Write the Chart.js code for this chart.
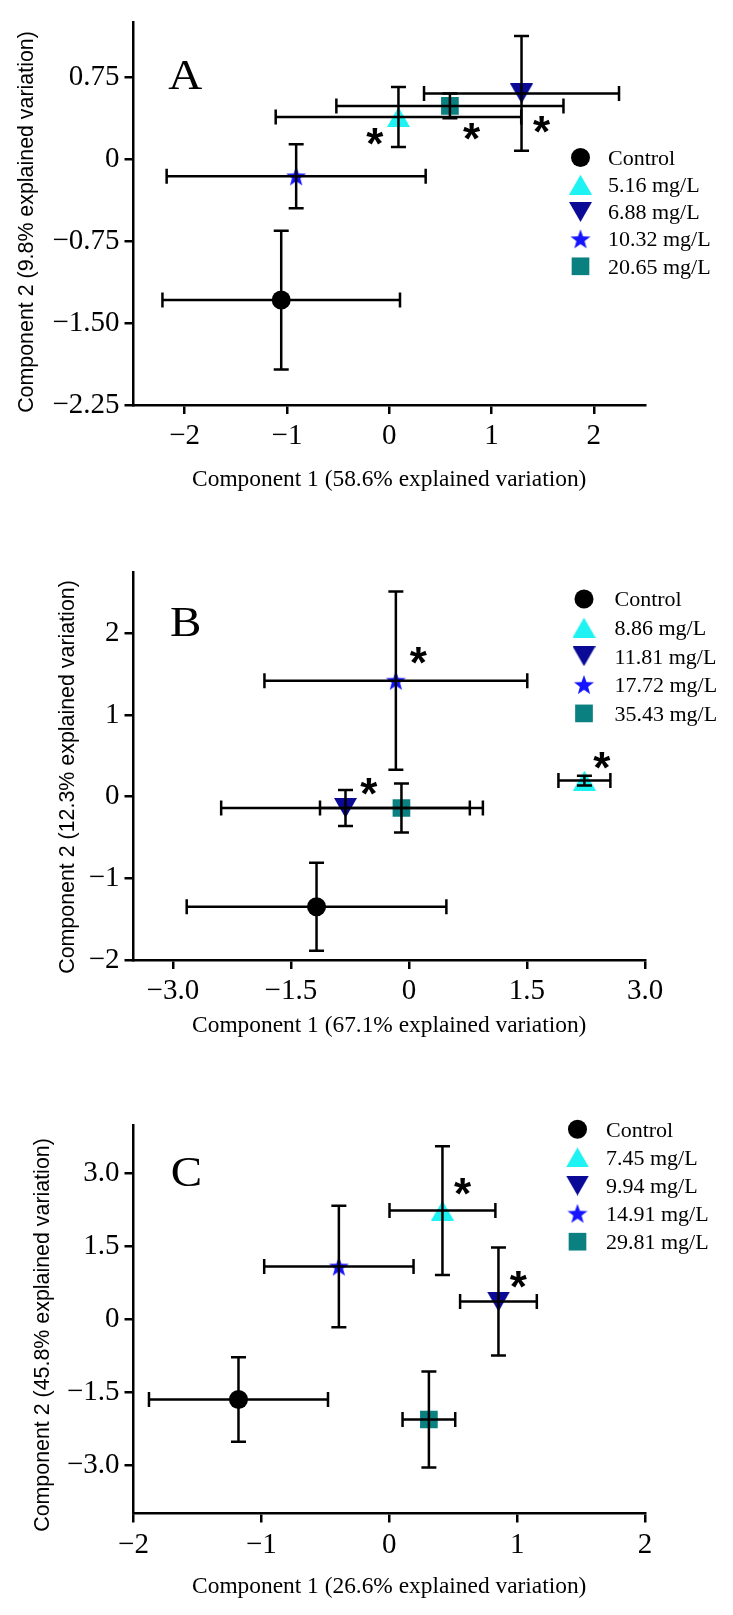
<!DOCTYPE html>
<html>
<head>
<meta charset="utf-8">
<script src="https://cdn.jsdelivr.net/npm/chart.js@4/dist/chart.umd.min.js"></script>
<style>
html,body{margin:0;padding:0;background:#fff;}
body{width:733px;height:1615px;position:relative;overflow:hidden;}
canvas{position:absolute;left:0;}
</style>
</head>
<body>
<canvas id="cA" width="733" height="510" style="top:0px"></canvas>
<canvas id="cB" width="733" height="530" style="top:540px"></canvas>
<canvas id="cC" width="733" height="525" style="top:1090px"></canvas>
<script>
// ---------- shared series styling ----------
const seriesColors = ['#000000', '#1EF2F2', '#0A0A96', '#1414FF', '#0B8080'];

// ---------- Panel A ----------
const aNames = ['Control', '5.16 mg/L', '6.88 mg/L', '10.32 mg/L', '20.65 mg/L'];
const aX    = [-1.056, 0.09, 1.293, -0.91, 0.593];
const aY    = [-1.29, 0.385, 0.60, -0.157, 0.486];
const aErrX = [1.161, 1.20, 0.953, 1.266, 1.11];
const aErrY = [0.635, 0.275, 0.525, 0.293, 0.113];
const aStarX = [-0.14, 0.805, 1.488];
const aStarY = [0.207, 0.256, 0.32];
const aXTicks = [-2, -1, 0, 1, 2];
const aXTickLabels = ['\u22122', '\u22121', '0', '1', '2'];
const aYTicks = [-2.25, -1.5, -0.75, 0, 0.75];
const aYTickLabels = ['\u22122.25', '\u22121.50', '\u22120.75', '0', '0.75'];
const aXTitle = 'Component 1 (58.6% explained variation)';
const aYTitle = 'Component 2 (9.8% explained variation)';

// ---------- Panel B ----------
const bNames = ['Control', '8.86 mg/L', '11.81 mg/L', '17.72 mg/L', '35.43 mg/L'];
const bX    = [-1.174, 2.23, -0.806, -0.166, -0.095];
const bY    = [-1.348, 0.196, -0.139, 1.42, -0.139];
const bErrX = [1.65, 0.33, 1.58, 1.67, 1.035];
const bErrY = [0.54, 0.06, 0.22, 1.09, 0.30];
const bStarX = [0.12, 2.45, -0.51];
const bStarY = [1.73, 0.44, 0.13];
const bXTicks = [-3, -1.5, 0, 1.5, 3];
const bXTickLabels = ['\u22123.0', '\u22121.5', '0', '1.5', '3.0'];
const bYTicks = [-2, -1, 0, 1, 2];
const bYTickLabels = ['\u22122', '\u22121', '0', '1', '2'];
const bXTitle = 'Component 1 (67.1% explained variation)';
const bYTitle = 'Component 2 (12.3% explained variation)';

// ---------- Panel C ----------
const cNames = ['Control', '7.45 mg/L', '9.94 mg/L', '14.91 mg/L', '29.81 mg/L'];
const cX    = [-1.179, 0.416, 0.854, -0.394, 0.31];
const cY    = [-1.651, 2.237, 0.365, 1.087, -2.064];
const cErrX = [0.70, 0.414, 0.30, 0.584, 0.206];
const cErrY = [0.87, 1.325, 1.11, 1.25, 0.99];
const cStarX = [0.573, 1.01];
const cStarY = [2.74, 0.81];
const cXTicks = [-2, -1, 0, 1, 2];
const cXTickLabels = ['\u22122', '\u22121', '0', '1', '2'];
const cYTicks = [-3, -1.5, 0, 1.5, 3];
const cYTickLabels = ['\u22123.0', '\u22121.5', '0', '1.5', '3.0'];
const cXTitle = 'Component 1 (26.6% explained variation)';
const cYTitle = 'Component 2 (45.8% explained variation)';

// ---------- marker images ----------
function triImg(color, down) {
  const w = 23, h = 20;
  const c = document.createElement('canvas'); c.width = w; c.height = h;
  const g = c.getContext('2d'); g.fillStyle = color; g.beginPath();
  if (down) { g.moveTo(0, 0); g.lineTo(w, 0); g.lineTo(w / 2, h); }
  else { g.moveTo(0, h); g.lineTo(w, h); g.lineTo(w / 2, 0); }
  g.closePath(); g.fill(); return c;
}
function starImg(color) {
  const R = 10.5, r = 4.3, w = 22, h = 20;
  const c = document.createElement('canvas'); c.width = w; c.height = h;
  const g = c.getContext('2d'); g.fillStyle = color; g.beginPath();
  const cx = w / 2, cy = R + 0.2;
  for (let i = 0; i < 10; i++) {
    const rr = i % 2 === 0 ? R : r;
    const a = -Math.PI / 2 + i * Math.PI / 5;
    const px = cx + rr * Math.cos(a), py = cy + rr * Math.sin(a);
    if (i === 0) g.moveTo(px, py); else g.lineTo(px, py);
  }
  g.closePath(); g.fill(); return c;
}
const markerStyles = [
  { pointStyle: 'circle', radius: 9.5 },
  { pointStyle: triImg(seriesColors[1], false), radius: 12 },
  { pointStyle: triImg(seriesColors[2], true), radius: 12 },
  { pointStyle: starImg(seriesColors[3]), radius: 11 },
  { pointStyle: 'rect', radius: 12.5 }
];

function drawMarker(ctx, i, x, y) {
  const m = markerStyles[i];
  ctx.save();
  ctx.fillStyle = seriesColors[i];
  if (typeof m.pointStyle === 'object') {
    ctx.drawImage(m.pointStyle, x - m.pointStyle.width / 2, y - m.pointStyle.height / 2);
  } else if (m.pointStyle === 'circle') {
    ctx.beginPath(); ctx.arc(x, y, m.radius, 0, Math.PI * 2); ctx.fill();
  } else {
    const s = Math.SQRT1_2 * m.radius;
    ctx.fillRect(x - s, y - s, 2 * s, 2 * s);
  }
  ctx.restore();
}

function textCenter(ctx, text, x, y, font, align, sx) {
  ctx.save();
  ctx.font = font; ctx.textAlign = align || 'center'; ctx.textBaseline = 'alphabetic';
  const m = ctx.measureText(text);
  ctx.translate(x, y + (m.actualBoundingBoxAscent - m.actualBoundingBoxDescent) / 2);
  if (sx) ctx.scale(sx, 1);
  ctx.fillText(text, 0, 0);
  ctx.restore();
}

function makePanel(id, cfg) {
  const H = document.getElementById(id).height;
  const datasets = cfg.names.map((n, i) => ({
    label: n,
    data: [{ x: cfg.x[i], y: cfg.y[i] }],
    pointStyle: markerStyles[i].pointStyle,
    pointRadius: markerStyles[i].radius,
    pointHoverRadius: markerStyles[i].radius,
    backgroundColor: seriesColors[i],
    borderColor: seriesColors[i],
    borderWidth: 0
  }));
  const tickFont = { family: 'Liberation Serif', size: 29 };
  const overlay = {
    id: 'overlay_' + id,
    afterDatasetsDraw(chart) {
      const ctx = chart.ctx, xs = chart.scales.x, ys = chart.scales.y;
      ctx.save();
      // error bars
      ctx.strokeStyle = '#000'; ctx.lineWidth = 2.5; ctx.lineCap = 'butt';
      const cap = 7.5;
      for (let i = 0; i < cfg.x.length; i++) {
        const px = xs.getPixelForValue(cfg.x[i]), py = ys.getPixelForValue(cfg.y[i]);
        const x1 = xs.getPixelForValue(cfg.x[i] - cfg.ex[i]), x2 = xs.getPixelForValue(cfg.x[i] + cfg.ex[i]);
        const y1 = ys.getPixelForValue(cfg.y[i] + cfg.ey[i]), y2 = ys.getPixelForValue(cfg.y[i] - cfg.ey[i]);
        ctx.beginPath();
        ctx.moveTo(x1, py); ctx.lineTo(x2, py);
        ctx.moveTo(x1, py - cap); ctx.lineTo(x1, py + cap);
        ctx.moveTo(x2, py - cap); ctx.lineTo(x2, py + cap);
        ctx.moveTo(px, y1); ctx.lineTo(px, y2);
        ctx.moveTo(px - cap, y1); ctx.lineTo(px + cap, y1);
        ctx.moveTo(px - cap, y2); ctx.lineTo(px + cap, y2);
        ctx.stroke();
      }
      ctx.fillStyle = '#000';
      // significance asterisks
      for (let k = 0; k < cfg.sx.length; k++) {
        textCenter(ctx, '*', xs.getPixelForValue(cfg.sx[k]), ys.getPixelForValue(cfg.sy[k]), 'bold 44px "Liberation Sans"');
      }
      // panel letter
      textCenter(ctx, cfg.letter, xs.getPixelForValue(cfg.letterX), ys.getPixelForValue(cfg.letterY), '42px "Liberation Serif"', 'left', 1.12);
      // legend
      for (let i = 0; i < cfg.names.length; i++) {
        const ly = cfg.legTop + i * cfg.legStep;
        drawMarker(ctx, i, cfg.legMarkX, ly);
        ctx.fillStyle = '#000';
        ctx.font = '22px "Liberation Serif"'; ctx.textAlign = 'left'; ctx.textBaseline = 'alphabetic';
        ctx.fillText(cfg.names[i], cfg.legTextX, ly + 7.3);
      }
      // axis titles
      textCenter(ctx, cfg.xTitle, (chart.chartArea.left + chart.chartArea.right) / 2, cfg.xTitleY, '23.4px "Liberation Serif"');
      ctx.save();
      ctx.translate(cfg.yTitleX, cfg.yTitleY);
      ctx.rotate(-Math.PI / 2);
      ctx.font = '21.4px "Liberation Sans"'; ctx.textAlign = 'center'; ctx.textBaseline = 'middle';
      ctx.fillText(cfg.yTitle, 0, 0);
      ctx.restore();
      ctx.restore();
    }
  };
  const axisCommon = (ticks, labels, font) => ({
    type: 'linear',
    border: { display: true, color: '#000', width: 2.5 },
    grid: { display: true, drawOnChartArea: false, drawTicks: true, tickLength: 9, color: '#000', lineWidth: 2.5 },
    afterBuildTicks: s => { s.ticks = ticks.map(v => ({ value: v })); },
    ticks: {
      color: '#000', font: font, padding: 5, autoSkip: false, maxRotation: 0,
      callback: v => { const k = ticks.findIndex(t => Math.abs(t - v) < 1e-9); return k >= 0 ? labels[k] : ''; }
    }
  });
  const xAxis = Object.assign(axisCommon(cfg.xTicks, cfg.xTickLabels, tickFont), {
    min: cfg.xMin, max: cfg.xMax, position: 'bottom',
    afterFit: s => { s.height = H - cfg.bottom; }
  });
  const yAxis = Object.assign(axisCommon(cfg.yTicks, cfg.yTickLabels, tickFont), {
    min: cfg.yMin, max: cfg.yMax, position: 'left',
    afterFit: s => { s.width = 133.5; }
  });
  return new Chart(document.getElementById(id), {
    type: 'scatter',
    data: { datasets },
    options: {
      responsive: false, animation: false, devicePixelRatio: 1,
      layout: { padding: { top: cfg.top, right: 88, left: 0, bottom: 0 } },
      plugins: { legend: { display: false }, tooltip: { enabled: false } },
      scales: { x: xAxis, y: yAxis }
    },
    plugins: [overlay]
  });
}

makePanel('cA', {
  names: aNames, x: aX, y: aY, ex: aErrX, ey: aErrY, sx: aStarX, sy: aStarY,
  xTicks: aXTicks, xTickLabels: aXTickLabels, yTicks: aYTicks, yTickLabels: aYTickLabels,
  xMin: -2.5, xMax: 2.5, yMin: -2.25, yMax: 1.25, top: 17, bottom: 405,
  letter: 'A', letterX: -2.161, letterY: 0.771,
  legMarkX: 580.5, legTextX: 608, legTop: 157.5, legStep: 27.2,
  xTitle: aXTitle, xTitleY: 480, yTitle: aYTitle, yTitleX: 27, yTitleY: 222
});
makePanel('cB', {
  names: bNames, x: bX, y: bY, ex: bErrX, ey: bErrY, sx: bStarX, sy: bStarY,
  xTicks: bXTicks, xTickLabels: bXTickLabels, yTicks: bYTicks, yTickLabels: bYTickLabels,
  xMin: -3.5, xMax: 3.0, yMin: -2, yMax: 2.75, top: 32, bottom: 420,
  letter: 'B', letterX: -3.037, letterY: 2.134,
  legMarkX: 584, legTextX: 614.5, legTop: 59, legStep: 28.6,
  xTitle: bXTitle, xTitleY: 486, yTitle: bYTitle, yTitleX: 68, yTitleY: 237
});
makePanel('cC', {
  names: cNames, x: cX, y: cY, ex: cErrX, ey: cErrY, sx: cStarX, sy: cStarY,
  xTicks: cXTicks, xTickLabels: cXTickLabels, yTicks: cYTicks, yTickLabels: cYTickLabels,
  xMin: -2, xMax: 2, yMin: -4, yMax: 4, top: 35, bottom: 423.5,
  letter: 'C', letterX: -1.709, letterY: 3.04,
  legMarkX: 577.5, legTextX: 606, legTop: 39.3, legStep: 28.1,
  xTitle: cXTitle, xTitleY: 497, yTitle: cYTitle, yTitleX: 43, yTitleY: 245
});
</script>
</body>
</html>
